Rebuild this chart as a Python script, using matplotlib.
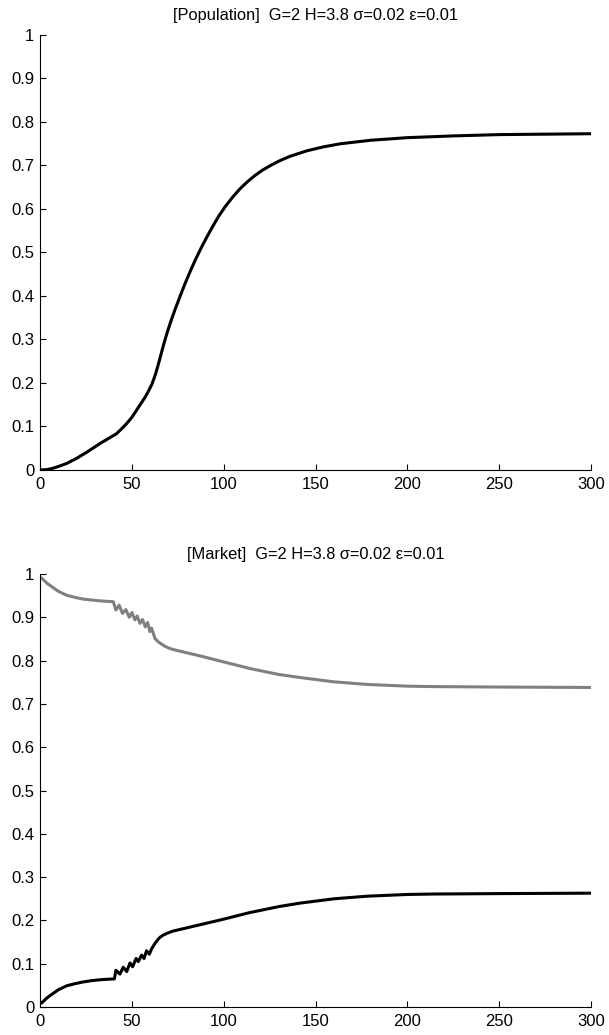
import matplotlib.pyplot as plt

plt.rcParams['font.family'] = ['Liberation Sans', 'DejaVu Sans']

# Population curve (top panel)
pop_x = [0, 4, 7, 10, 14.5, 20, 25.5, 32.7, 41.5, 44, 47, 50, 52, 54.5, 57, 59, 61, 63,
         65, 67, 69, 71, 73.5, 76.4, 79, 82, 85, 88, 91, 94, 97.5, 100.9, 105, 109, 113,
         117, 121, 125.5, 130, 136, 145.5, 154.5, 163.6, 180, 200, 225, 250, 275, 300]
pop_y = [0, 0.001, 0.004, 0.008, 0.015, 0.027, 0.041, 0.061, 0.083, 0.093, 0.106, 0.121,
         0.134, 0.15, 0.166, 0.181, 0.198, 0.222, 0.252, 0.284, 0.313, 0.339, 0.369,
         0.401, 0.429, 0.459, 0.487, 0.513, 0.537, 0.56, 0.585, 0.606, 0.628, 0.647,
         0.663, 0.677, 0.689, 0.7, 0.71, 0.721, 0.734, 0.743, 0.75, 0.758, 0.764, 0.768,
         0.771, 0.772, 0.773]

# Market shares (bottom panel): black series
mb_x = [1, 4, 7.3, 10, 14.5, 19, 23.6, 28, 32.7, 36, 40.5, 41.3, 43.5, 45.3, 47.2, 49,
        50.4, 52.3, 53.5, 55.3, 56.6, 58, 59.5, 60.8, 62.6, 64, 65.3, 67, 69, 72, 78, 87,
        100, 114, 130, 141.5, 160, 178, 200, 214, 250, 300]
mb_y = [0.01, 0.022, 0.032, 0.040, 0.049, 0.054, 0.058, 0.061, 0.063, 0.064, 0.065,
        0.085, 0.076, 0.092, 0.082, 0.102, 0.093, 0.112, 0.105, 0.12, 0.112, 0.13, 0.122,
        0.135, 0.147, 0.155, 0.161, 0.166, 0.17, 0.175, 0.181, 0.19, 0.203, 0.218, 0.232,
        0.24, 0.25, 0.256, 0.26, 0.261, 0.262, 0.263]

# Market shares (bottom panel): gray series
mg_x = [1, 4, 7.3, 10, 14.5, 19, 23.6, 28, 32.7, 36, 39.9, 41.3, 43.1, 44.9, 46.7, 48.6,
        50, 51.7, 52.9, 54.4, 55.8, 57.3, 58.6, 59.8, 60.7, 62.6, 64.5, 66.2, 68, 70.7,
        74, 78, 87, 100, 114, 130, 141.5, 160, 178, 200, 214, 250, 300]
mg_y = [0.99, 0.978, 0.968, 0.96, 0.951, 0.946, 0.942, 0.94, 0.938, 0.937, 0.936, 0.917,
        0.928, 0.909, 0.918, 0.9, 0.911, 0.894, 0.903, 0.886, 0.895, 0.878, 0.888, 0.867,
        0.875, 0.851, 0.843, 0.838, 0.833, 0.828, 0.824, 0.82, 0.811, 0.797, 0.782,
        0.768, 0.761, 0.751, 0.745, 0.741, 0.740, 0.739, 0.738]

x_ticks = [0, 50, 100, 150, 200, 250, 300]
y_ticks = [0, 0.1, 0.2, 0.3, 0.4, 0.5, 0.6, 0.7, 0.8, 0.9, 1]
y_labels = ['0', '0.1', '0.2', '0.3', '0.4', '0.5', '0.6', '0.7', '0.8', '0.9', '1']

fig = plt.figure(figsize=(6.09, 10.35), dpi=100)
ax1 = fig.add_axes([0.0657, 0.5459, 0.905, 0.4203])
ax2 = fig.add_axes([0.0657, 0.0270, 0.905, 0.4184])


def style(ax, title):
    ax.set_xlim(0, 300)
    ax.set_ylim(0, 1)
    ax.set_xticks(x_ticks)
    ax.set_xticklabels([str(t) for t in x_ticks])
    ax.set_yticks(y_ticks)
    ax.set_yticklabels(y_labels)
    ax.spines['top'].set_visible(False)
    ax.spines['right'].set_visible(False)
    ax.spines['left'].set_linewidth(0.8)
    ax.spines['bottom'].set_linewidth(0.8)
    ax.tick_params(direction='in', length=4, width=0.8, labelsize=12)
    ax.tick_params(axis='x', pad=5)
    ax.tick_params(axis='y', pad=4)
    ax.set_title(title, fontsize=11.8, pad=11)


ax1.plot(pop_x, pop_y, color='black', linewidth=2.2)
style(ax1, '[Population]  G=2 H=3.8 σ=0.02 ε=0.01')

ax2.plot(mg_x, mg_y, color='#808080', linewidth=2.2)
ax2.plot(mb_x, mb_y, color='black', linewidth=2.2)
style(ax2, '[Market]  G=2 H=3.8 σ=0.02 ε=0.01')

plt.savefig('out.png', dpi=100)
